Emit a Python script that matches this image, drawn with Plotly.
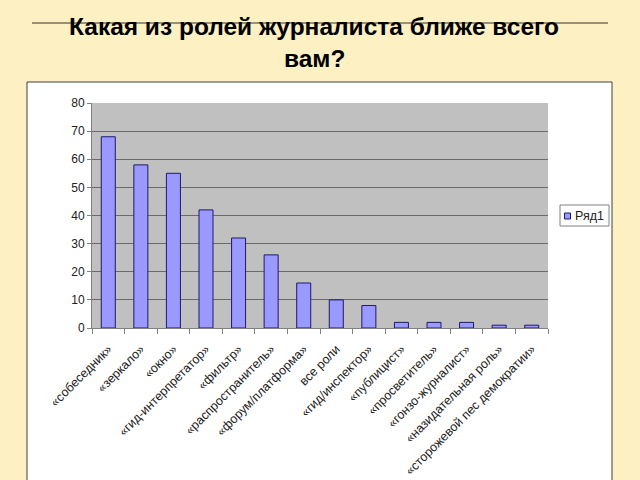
import plotly.graph_objects as go

categories = ["«собеседник»", "«зеркало»", "«окно»", "«гид-интерпретатор»", "«фильтр»",
              "«распространитель»", "«форум/платформа»", "все роли", "«гид/инспектор»",
              "«публицист»", "«просветитель»", "«гонзо-журналист»", "«назидательная роль»",
              "«сторожевой пес демократии»"]
values = [68, 58, 55, 42, 32, 26, 16, 10, 8, 2, 2, 2, 1, 1]
series_name = "Ряд1"
y_ticks = [0, 10, 20, 30, 40, 50, 60, 70, 80]

W, H = 640, 480
L, R, T, B = 92, 548, 103, 328
pw, ph = R - L, B - T

BAR_FILL = "#9999FF"
BAR_EDGE = "#1a1a6e"

def px(x):
    return (x - L) / pw

def py(y):
    return (B - y) / ph

fig = go.Figure()
fig.add_trace(go.Bar(
    x=categories, y=values, name=series_name,
    marker=dict(color=BAR_FILL, line=dict(color=BAR_EDGE, width=1)),
    showlegend=False,
))

fig.update_layout(
    width=W, height=H,
    margin=dict(l=L, r=W - R, t=T, b=H - B, autoexpand=False),
    paper_bgcolor="#FDF0C3",
    plot_bgcolor="#C0C0C0",
    bargap=0.57,
    font=dict(family="Liberation Sans, Arial, sans-serif", size=12, color="#222222"),
    xaxis=dict(
        type="category", tickangle=-45, ticks="outside", tickson="boundaries",
        ticklen=5, tickcolor="#808080", showgrid=False, ticklabelstandoff=8,
        showline=True, linecolor="#808080", tickfont=dict(size=12.5, color="#222222"),
    ),
    yaxis=dict(
        range=[0, 80], tickvals=y_ticks, ticks="outside", ticklen=4, tickcolor="#808080",
        showgrid=True, gridcolor="#6a6a6a", gridwidth=1,
        showline=True, linecolor="#808080", zeroline=False,
        tickfont=dict(size=12, color="#222222"),
    ),
    shapes=[
        dict(type="rect", xref="paper", yref="paper", x0=px(27), x1=px(612),
             y0=py(490), y1=py(82), fillcolor="white", line=dict(color="#404040", width=1),
             layer="below"),
        dict(type="rect", xref="paper", yref="paper", x0=0, x1=1, y0=0, y1=1,
             fillcolor="#C0C0C0", line=dict(width=0), layer="below"),
        dict(type="line", xref="paper", yref="paper", x0=px(32), x1=px(608),
             y0=py(23), y1=py(23), line=dict(color="#303030", width=1)),
        # legend box
        dict(type="rect", xref="paper", yref="paper", x0=px(560), x1=px(609),
             y0=py(226), y1=py(205), fillcolor="white", line=dict(color="#808080", width=1)),
        dict(type="rect", xref="paper", yref="paper", x0=px(564.5), x1=px(570.5),
             y0=py(219), y1=py(213), fillcolor=BAR_FILL, line=dict(color=BAR_EDGE, width=1)),
    ],
    annotations=[
        dict(text="<b>Какая из ролей журналиста ближе всего</b>", xref="paper", yref="paper",
             x=px(314), y=py(26), xanchor="center", yanchor="middle", showarrow=False,
             font=dict(size=24.5, color="black", family="Liberation Sans, Arial, sans-serif")),
        dict(text="<b>вам?</b>", xref="paper", yref="paper",
             x=px(314), y=py(58), xanchor="center", yanchor="middle", showarrow=False,
             font=dict(size=24.5, color="black", family="Liberation Sans, Arial, sans-serif")),
        dict(text=series_name, xref="paper", yref="paper",
             x=px(573), y=py(216), xanchor="left", yanchor="middle", showarrow=False,
             font=dict(size=12.5, color="#222222")),
    ],
)

fig.write_html("out.html")
